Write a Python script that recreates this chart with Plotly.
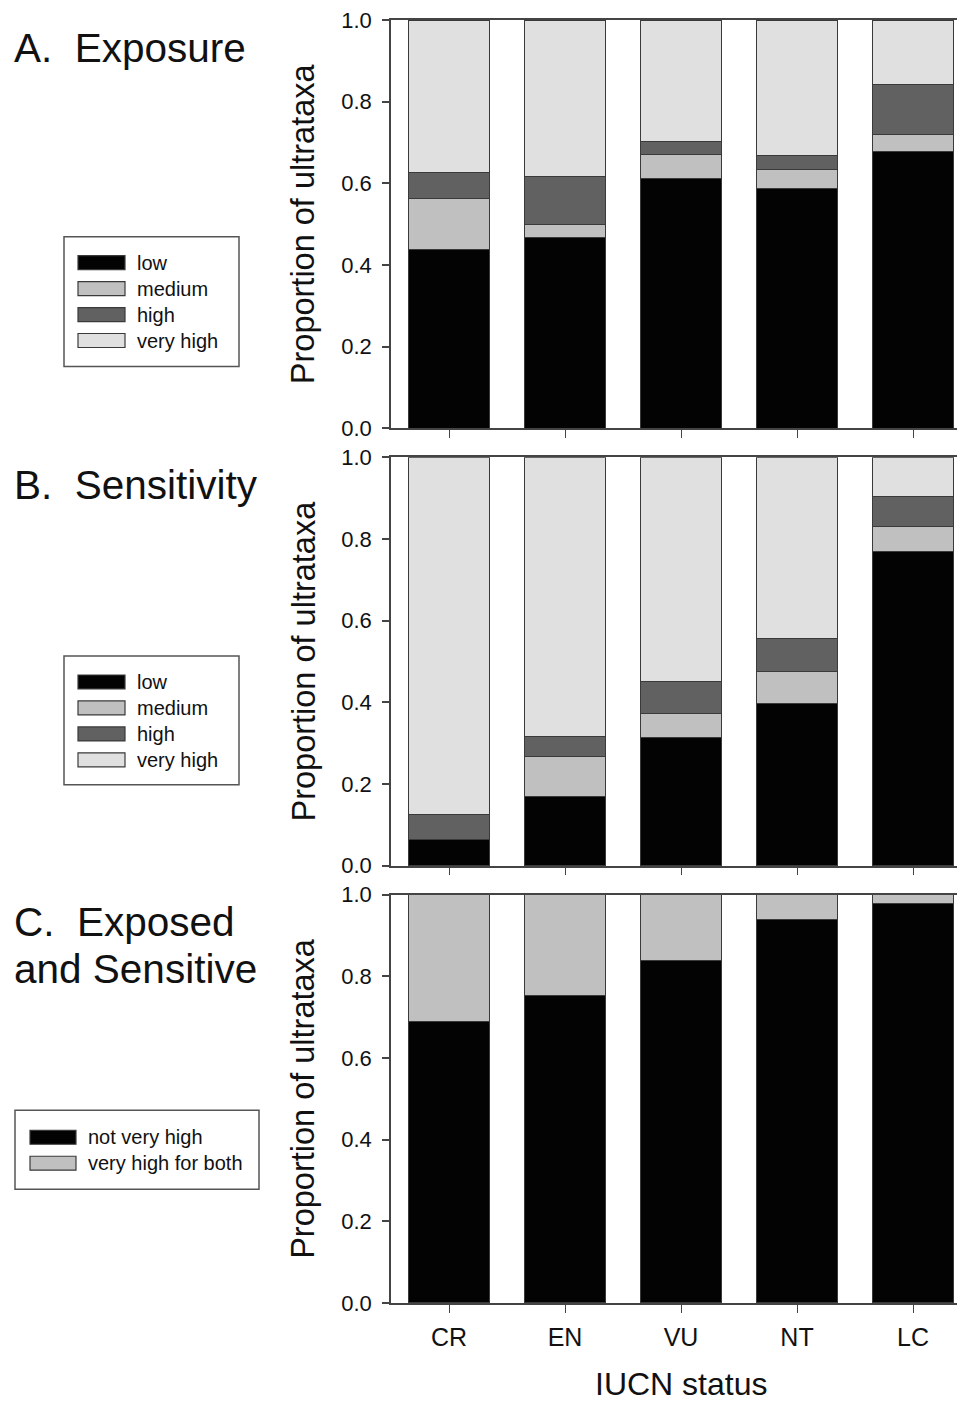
import plotly.graph_objects as go

categories = ["CR", "EN", "VU", "NT", "LC"]
level_names = ["low", "medium", "high", "very high"]
level_colors = ["#030303", "#c0c0c0", "#616161", "#e0e0e0"]

# Panel A: Exposure (segment heights, bottom to top)
expo_low = [0.437, 0.468, 0.612, 0.588, 0.677]
expo_medium = [0.125, 0.032, 0.059, 0.047, 0.043]
expo_high = [0.064, 0.117, 0.031, 0.032, 0.122]
expo_very_high = [0.374, 0.383, 0.298, 0.333, 0.158]

# Panel B: Sensitivity
sens_low = [0.064, 0.169, 0.314, 0.398, 0.769]
sens_medium = [0.000, 0.098, 0.058, 0.078, 0.061]
sens_high = [0.062, 0.049, 0.078, 0.080, 0.074]
sens_very_high = [0.874, 0.684, 0.550, 0.444, 0.096]

# Panel C: Exposed and Sensitive
both_names = ["not very high", "very high for both"]
both_colors = ["#030303", "#c0c0c0"]
both_not = [0.689, 0.752, 0.838, 0.939, 0.979]
both_very = [0.311, 0.248, 0.162, 0.061, 0.021]

y_ticks = [0.0, 0.2, 0.4, 0.6, 0.8, 1.0]

FONT = "Arial, Liberation Sans, sans-serif"
OFF = 8  # page body margin
W, H = 965 - OFF, 1402 - OFF
L, R, T, B = 391 - OFF, 0, 18 - OFF, 99
PW = W - L - R
PH = H - T - B


def px2x(px):
    return (px - OFF - L) / PW


def py2y(py):
    return (H - B - (py - OFF)) / PH


doms = [[py2y(427), py2y(18)], [py2y(865), py2y(456)], [py2y(1303), py2y(894)]]

fig = go.Figure()
EDGE = "#3a3a3a"

panelA = [expo_low, expo_medium, expo_high, expo_very_high]
panelB = [sens_low, sens_medium, sens_high, sens_very_high]
for vals, nm, col in zip(panelA, level_names, level_colors):
    fig.add_trace(go.Bar(x=categories, y=vals, name=nm, marker=dict(color=col, line=dict(color=EDGE, width=1)),
                         width=0.70, xaxis="x", yaxis="y", showlegend=False))
for vals, nm, col in zip(panelB, level_names, level_colors):
    fig.add_trace(go.Bar(x=categories, y=vals, name=nm, marker=dict(color=col, line=dict(color=EDGE, width=1)),
                         width=0.70, xaxis="x2", yaxis="y2", showlegend=False))
for vals, nm, col in zip([both_not, both_very], both_names, both_colors):
    fig.add_trace(go.Bar(x=categories, y=vals, name=nm, marker=dict(color=col, line=dict(color=EDGE, width=1)),
                         width=0.70, xaxis="x3", yaxis="y3", showlegend=False))

AX = "#444444"
xrange = [-0.5, -0.5 + PW / 116.0]
common_x = dict(range=xrange, showline=True, linecolor=AX, linewidth=1.5, mirror=True,
                ticks="outside", ticklen=8, tickcolor=AX, tickwidth=1.2, showgrid=False,
                zeroline=False, domain=[0, 1], fixedrange=True)
common_y = dict(range=[0, 1], showline=True, linecolor=AX, linewidth=1.5, ticks="outside",
                ticklen=7, tickcolor=AX, tickwidth=1.5, tickvals=y_ticks, tickformat=".1f",
                showgrid=False, zeroline=False, tickfont=dict(size=22, color="#111", family=FONT),
                ticklabelstandoff=6, ticklabeloverflow="allow")

fig.update_layout(
    width=W, height=H, margin=dict(l=L, r=R, t=T, b=B),
    paper_bgcolor="white", plot_bgcolor="white", barmode="stack", bargap=0.3,
    font=dict(family=FONT, color="#111"),
    xaxis=dict(**common_x, anchor="y", showticklabels=False),
    yaxis=dict(**common_y, domain=doms[0], anchor="x"),
    xaxis2=dict(**common_x, anchor="y2", showticklabels=False),
    yaxis2=dict(**common_y, domain=doms[1], anchor="x2"),
    xaxis3=dict(**common_x, anchor="y3", showticklabels=True,
                tickfont=dict(size=25, color="#111", family=FONT), ticklabelstandoff=3),
    yaxis3=dict(**common_y, domain=doms[2], anchor="x3"),
    showlegend=False,
)

annotations = []
shapes = []

# Panel titles
titles = [("A.\u00a0 Exposure", 46), ("B.\u00a0 Sensitivity", 484), ("C.\u00a0 Exposed", 921),
          ("and Sensitive", 968)]
for txt, py in titles:
    annotations.append(dict(text=txt, xref="paper", yref="paper", x=px2x(12), y=py2y(py),
                            xanchor="left", yanchor="middle", showarrow=False,
                            font=dict(size=40.5, family=FONT, color="#111")))

# y axis titles
for yc in [222.5, 660.5, 1098.5]:
    annotations.append(dict(text="Proportion of ultrataxa", xref="paper", yref="paper",
                            x=px2x(303), y=py2y(yc), textangle=-90, xanchor="center",
                            yanchor="middle", showarrow=False,
                            font=dict(size=32.5, family=FONT, color="#111")))

# x axis title
annotations.append(dict(text="IUCN status", xref="x3", yref="paper", x=2, y=py2y(1384),
                        xanchor="center", yanchor="middle", showarrow=False,
                        font=dict(size=32, family=FONT, color="#111")))


def add_legend(box, sw_x, text_x, rows, names, colors):
    x0, y0, x1, y1 = box
    shapes.append(dict(type="rect", xref="paper", yref="paper", x0=px2x(x0), x1=px2x(x1),
                       y0=py2y(y1), y1=py2y(y0), line=dict(color="#555", width=1.5),
                       fillcolor="white", layer="above"))
    for ry, nm, col in zip(rows, names, colors):
        shapes.append(dict(type="rect", xref="paper", yref="paper", x0=px2x(sw_x[0]), x1=px2x(sw_x[1]),
                           y0=py2y(ry + 7), y1=py2y(ry - 7), line=dict(color=EDGE, width=1.2),
                           fillcolor=col, layer="above"))
        annotations.append(dict(text=nm, xref="paper", yref="paper", x=px2x(text_x), y=py2y(ry),
                                xanchor="left", yanchor="middle", showarrow=False,
                                font=dict(size=20, family=FONT, color="#111")))


add_legend((64, 235, 239, 365), (78, 125), 135, [261, 287, 313, 339], level_names, level_colors)
add_legend((64, 655, 239, 784), (78, 125), 135, [681, 707, 733, 759], level_names, level_colors)
add_legend((15, 1110, 259, 1189), (30, 76), 86, [1137, 1163], both_names, both_colors)

fig.update_layout(annotations=annotations, shapes=shapes)
fig.write_html("out.html")
